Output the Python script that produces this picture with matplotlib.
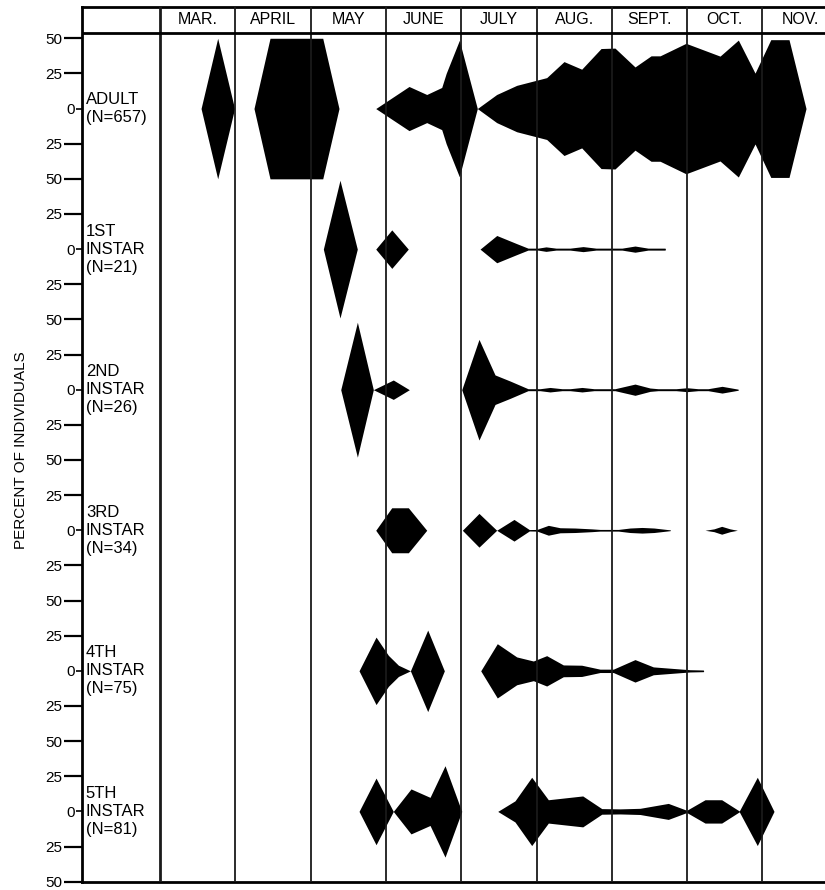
import numpy as np
import matplotlib
matplotlib.use("Agg")
import matplotlib.pyplot as plt

plt.rcParams['font.family'] = ['Liberation Sans', 'DejaVu Sans']

months = ["MAR.", "APRIL", "MAY", "JUNE", "JULY", "AUG.", "SEPT.", "OCT.", "NOV."]
stages = ["ADULT\n(N=657)", "1ST\nINSTAR\n(N=21)", "2ND\nINSTAR\n(N=26)",
          "3RD\nINSTAR\n(N=34)", "4TH\nINSTAR\n(N=75)", "5TH\nINSTAR\n(N=81)"]

# time position (months since start of March) and half-width (percent) of each kite
adult_month = [0.545, 0.766, 0.99,
               1.248, 1.461, 2.161, 2.377,
               2.865, 3.307, 3.542, 3.741, 3.800, 3.975, 4.214,
               4.471, 4.737, 5.135, 5.365, 5.600, 5.857, 6.042, 6.308, 6.521, 6.641,
               6.985, 7.437, 7.680, 7.902, 8.111, 8.353, 8.579]
adult_pct = [0, 50, 0,
             0, 50, 50, 0,
             0, 15.7, 10, 15, 25, 48.5, 0,
             10, 16.5, 22, 33.4, 28, 42.7, 43, 29.6, 37.5, 37.5,
             46.4, 37.3, 48.7, 25.2, 49, 49, 0]

inst1_month = [2.169, 2.390, 2.620,
               2.865, 3.078, 3.297,
               4.250, 4.472, 4.737, 4.887, 5.020, 5.126, 5.259, 5.445, 5.618, 5.790,
               6.135, 6.308, 6.481, 6.707, 6.712]
inst1_pct = [0, 49, 0,
             0, 13.7, 0,
             0, 9.7, 3.9, 0.7, 0.7, 1.6, 0.7, 0.7, 1.8, 0.7,
             0.7, 2.2, 0.7, 0.7, 0]

inst2_month = [2.400, 2.621, 2.833, 3.098, 3.311,
               4.007, 4.236, 4.449, 4.648, 4.887, 5.046, 5.179, 5.339, 5.445, 5.604,
               5.764, 6.042, 6.308, 6.507, 6.614, 6.853, 6.999, 7.145, 7.278, 7.464,
               7.676, 7.680]
inst2_pct = [0, 48, 0, 6.9, 0,
             0, 35.8, 10.5, 6.2, 0.7, 0.7, 1.6, 0.7, 0.7, 1.6,
             0.7, 0.7, 4.0, 1.2, 0.7, 0.7, 1.4, 0.7, 0.7, 2.4,
             0.4, 0]

inst3_month = [2.865, 3.077, 3.298, 3.542,
               4.015, 4.236, 4.471, 4.701, 4.904, 5.007, 5.157, 5.312, 5.511, 5.733,
               5.843, 6.087, 6.242, 6.401, 6.560, 6.773, 6.780,
               7.238, 7.357, 7.459, 7.570, 7.667]
inst3_pct = [0, 16, 16, 0,
             0, 12, 0, 7.7, 0.5, 0.6, 3.5, 1.8, 1.6, 1.0,
             0.6, 0.6, 1.6, 2.0, 1.6, 0.3, 0,
             0, 1.0, 2.8, 1.0, 0]

inst4_month = [2.643, 2.869, 3.033, 3.166, 3.325, 3.555, 3.776,
               4.259, 4.479, 4.737, 4.958, 5.135, 5.356, 5.600, 5.843, 6.020,
               6.308, 6.551, 6.817, 7.038, 7.215, 7.220]
inst4_pct = [0, 24, 11, 4, 0, 29, 0,
             0, 19.3, 9.9, 7, 10.8, 4.2, 4, 1.2, 1.2,
             8, 2.8, 1.7, 0.8, 0.6, 0]

inst5_month = [2.643, 2.869, 3.098, 3.333, 3.586, 3.785, 4.007,
               4.485, 4.714, 4.936, 5.157, 5.445, 5.614, 5.866, 6.109, 6.375,
               6.750, 6.995, 7.238, 7.459, 7.693, 7.932, 8.154]
inst5_pct = [0, 23.7, 0, 16, 10, 32.5, 0,
             0, 7.5, 24.3, 8.3, 10, 11, 2, 1.8, 2.2,
             5.7, 0.8, 8.3, 8.3, 0.3, 24.3, 0]

series = [(adult_month, adult_pct), (inst1_month, inst1_pct), (inst2_month, inst2_pct),
          (inst3_month, inst3_pct), (inst4_month, inst4_pct), (inst5_month, inst5_pct)]

fig = plt.figure(figsize=(8.25, 8.9), dpi=100)
ax = fig.add_axes([82 / 825, 8.3 / 890, 743 / 825, 875.2 / 890])

PANEL = 100
centers = [-PANEL * i for i in range(len(stages))]
head_top = 72.6
head_bot = 53.4

for (mx, pc), c in zip(series, centers):
    mx = np.asarray(mx, float)
    pc = np.asarray(pc, float)
    ax.fill_between(mx, c - pc, c + pc, color='black', linewidth=0)

# month divider lines
for i in range(len(months)):
    ax.axvline(i, color='#1a1a1a', lw=2.0 if i == 0 else 1.3, zorder=3)
ax.axhline(head_bot, color='black', lw=2.0, zorder=3)

for i, m in enumerate(months):
    ax.text(i + 0.5, (head_top + head_bot) / 2 + 0.5, m, ha='center', va='center', fontsize=11.5)

for lab, c in zip(stages, centers):
    ax.text(-0.985, c, lab, ha='left', va='center', fontsize=12, linespacing=1.25)

ax.set_xlim(-1.036, 8.831)
ax.set_ylim(centers[-1] - 50, head_top)

# y ticks
major_pos, major_lab = [], []
for c in centers:
    for off in (50, 25, -25):
        major_pos.append(c + off)
        major_lab.append(str(abs(off)))
major_pos.append(centers[-1] - 50)
major_lab.append("50")
ax.set_yticks(major_pos)
ax.set_yticklabels(major_lab, fontsize=11)
ax.set_yticks(centers, minor=True)
ax.set_yticklabels(["0"] * len(centers), minor=True, fontsize=11)
ax.tick_params(axis='y', which='major', length=13, width=1.6, pad=1)
ax.tick_params(axis='y', which='minor', length=4, width=1.2, pad=1)
ax.set_xticks([])

for s in ('left', 'top', 'bottom'):
    ax.spines[s].set_linewidth(2)
ax.spines['right'].set_visible(False)

fig.text(21 / 825, 1 - 450 / 890, "PERCENT OF INDIVIDUALS", rotation=90,
         ha='center', va='center', fontsize=11)

fig.savefig("out.png", dpi=100)
